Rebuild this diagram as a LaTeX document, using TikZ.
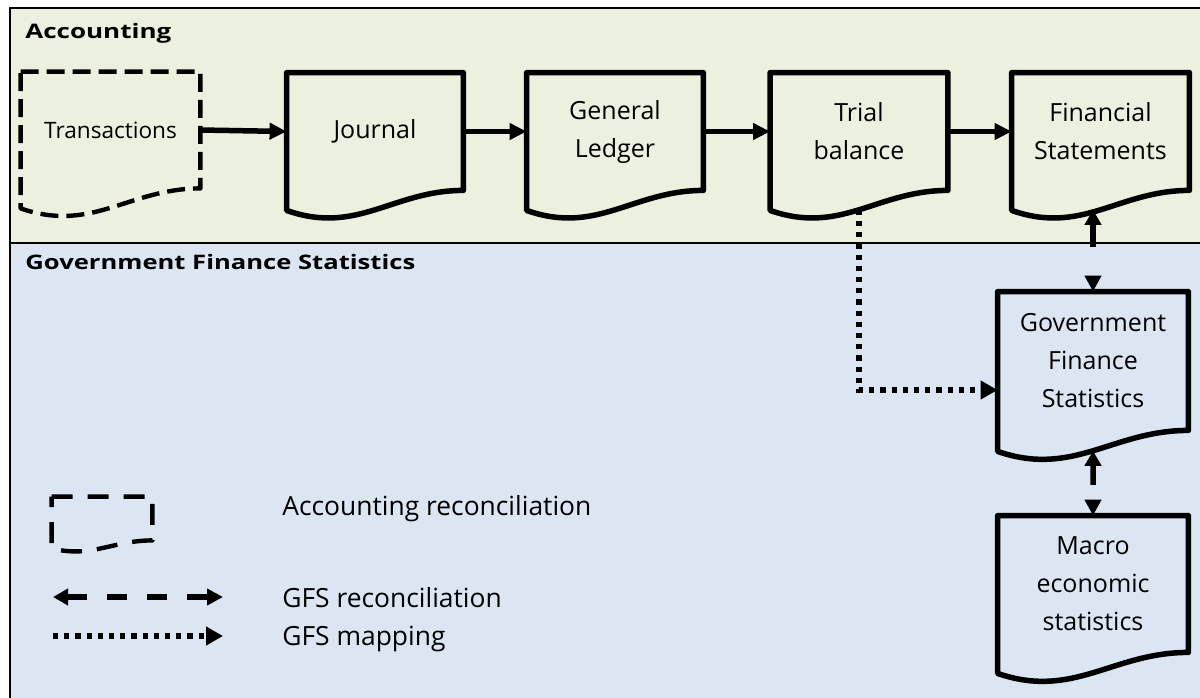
\documentclass[tikz,border=0pt]{standalone}
\usepackage{fontspec}
\usepackage{graphicx}
\setmainfont{Open Sans}
\usetikzlibrary{arrows.meta,calc}
\definecolor{accgreen}{HTML}{EBF1DE}
\definecolor{gfsblue}{HTML}{DCE6F2}
\tikzset{
 docnode/.style={inner sep=0pt, align=center, font=\fontsize{12.5}{19}\selectfont},
 docline/.style={line width=2.75pt, line join=round},
 trdash/.style={line width=2.2pt, dash pattern=on 9pt off 4pt, line join=round},
 legdash/.style={line width=2.2pt, dash pattern=on 10.5pt off 7.5pt, line join=round},
 flow/.style={line width=2.75pt, -{Triangle[length=8.5pt,width=8pt]}},
 recon/.style={line width=2.75pt, {Triangle[length=7.5pt,width=8pt]}-{Triangle[length=8pt,width=8pt]}},
 mapping/.style={line width=2.6pt, dash pattern=on 2.6pt off 3pt, -{Triangle[length=8.5pt,width=9pt]}},
 heading/.style={font=\bfseries\fontsize{10}{12}\selectfont, anchor=base west, inner sep=0pt},
 legtext/.style={font=\fontsize{13.2}{15}\selectfont, anchor=base west, inner sep=0pt},
}
\newcommand\docpath[4]{%
 \draw[#4] (#1.north west) -- (#1.north east) -- (#1.south east)
   .. controls ($(#1.south east)+(-0.4*#2,0)$) and ($(#1.south west)+(0.4*#2,2.25*#3)$) .. ($(#1.south west)+(0,#3)$)
   coordinate[pos=0.5] (#1-b) -- cycle;}
\begin{document}
\begin{tikzpicture}[x=0.5pt,y=-0.5pt]
\useasboundingbox (0,0) rectangle (1200,697);
\clip (0,0) rectangle (1200,697);
% bands
\fill[accgreen] (10,8) rectangle (1210,243);
\fill[gfsblue] (10,243) rectangle (1210,707);
\draw[line width=1pt] (10,8) rectangle (1210,707);
\draw[line width=1pt] (10,243) -- (1210,243);
\node[heading] (hacc) at (25,38.5) {\scalebox{1.3}[1]{Accounting}};
\node[heading] (hgfs) at (25,269) {\scalebox{1.28}[1]{Government Finance Statistics}};
% documents
\node[docnode, minimum width=89.5pt, minimum height=58pt, font=\fontsize{11.3}{15}\selectfont] (T) at (110.5,130) {Transactions};
\node[docnode, minimum width=88pt, minimum height=58.5pt] (J) at (375,131.5) {Journal};
\node[docnode, minimum width=88pt, minimum height=58.5pt] (GL) at (615,131.5) {General\\Ledger};
\node[docnode, minimum width=88.5pt, minimum height=58.5pt] (TB) at (859,131.5) {Trial\\balance};
\node[docnode, minimum width=88.5pt, minimum height=58.5pt] (FS) at (1100.5,131.5) {Financial\\Statements};
\node[docnode, minimum width=95pt, minimum height=69pt] (GFS) at (1093,361) {Government\\Finance\\Statistics};
\node[docnode, minimum width=95pt, minimum height=68pt] (MS) at (1093,584) {Macro\\economic\\statistics};
\node[minimum width=50pt, minimum height=21.5pt, inner sep=0pt] (LG) at (102,518.5) {};
\docpath{T}{179}{20}{trdash}
\docpath{J}{176}{20}{docline}
\docpath{GL}{176}{20}{docline}
\docpath{TB}{177}{20}{docline}
\docpath{FS}{177}{20}{docline}
\docpath{GFS}{190}{21}{docline}
\docpath{MS}{190}{21}{docline}
\docpath{LG}{100}{8}{legdash}
% flow arrows
\draw[flow] (T.east) -- (J.west);
\draw[flow] (J.east) -- (GL.west);
\draw[flow] (GL.east) -- (TB.west);
\draw[flow] (TB.east) -- (FS.west);
% reconciliation
\draw[recon, dash pattern=on 11.5pt off 30pt] (FS-b -| GFS.north) -- (GFS.north);
\draw[recon, dash pattern=on 10pt off 30pt] (GFS-b) -- (MS.north);
% mapping
\coordinate (mapy) at (0,390);
\draw[mapping] (TB-b) -- (TB-b |- mapy) -- (GFS.west |- mapy);
% legend
\coordinate (l1a) at (53,597);
\coordinate (l1b) at (223,597);
\coordinate (l2a) at (53,636);
\coordinate (l2b) at (223,636);
\draw[recon, dash pattern=on 10pt off 10pt] (l1a) -- (l1b);
\draw[mapping] (l2a) -- (l2b);
\node[legtext] (lt1) at (282,515) {Accounting reconciliation};
\node[legtext] (lt2) at (282,607) {GFS reconciliation};
\node[legtext] (lt3) at (282,645) {GFS mapping};
\end{tikzpicture}
\end{document}
